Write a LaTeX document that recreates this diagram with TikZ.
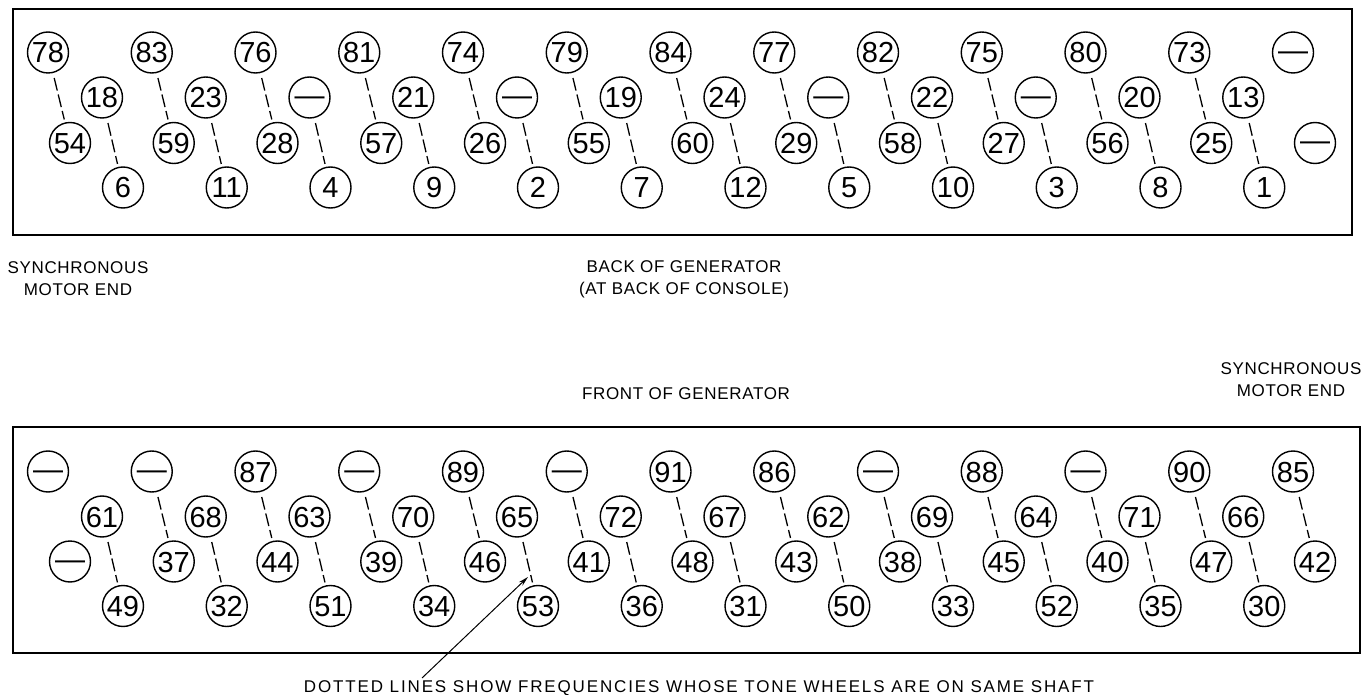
\documentclass[tikz,border=0pt]{standalone}
\usepackage{fontspec}
\setmainfont{Liberation Sans}
\usetikzlibrary{arrows.meta}
\tikzset{
  wheel/.style={circle, draw, line width=1.4pt, minimum size=41pt, inner sep=0pt,
    font=\fontsize{29}{29}\selectfont, text height=21pt, text depth=0pt},
  shaft/.style={line width=1.3pt, dash pattern=on 13pt off 4pt, shorten >=3pt, shorten <=5pt},
  panel/.style={line width=1.6pt},
  lbl/.style={font=\fontsize{17}{22}\selectfont\addfontfeature{LetterSpace=4}, align=center, inner sep=0pt},
}
\newcommand\dsh{\raisebox{2.7pt}{\fontsize{30}{30}\selectfont —}}
\begin{document}
\begin{tikzpicture}[x=1pt,y=-1pt]
\useasboundingbox (0,0) rectangle (1361,695);
% panels
\draw[panel] (13,9) rectangle (1352,235);
\draw[panel] (13,427) rectangle (1360,653);
% top panel (back of generator)
\foreach \v [count=\i from 0] in {78,83,76,81,74,79,84,77,82,75,80,73,\dsh}
  \node[wheel] (ta\i) at ({48+103.75*\i},52.5) {\v};
\foreach \v [count=\i from 0] in {18,23,\dsh,21,\dsh,19,24,\dsh,22,\dsh,20,13}
  \node[wheel] (tb\i) at ({102+103.75*\i},97.5) {\v};
\foreach \v [count=\i from 0] in {54,59,28,57,26,55,60,29,58,27,56,25,\dsh}
  \node[wheel] (tc\i) at ({70+103.75*\i},143) {\v};
\foreach \v [count=\i from 0] in {6,11,4,9,2,7,12,5,10,3,8,1}
  \node[wheel] (td\i) at ({123+103.75*\i},187.5) {\v};
\foreach \i in {0,...,11} {
  \draw[shaft] (ta\i) -- (tc\i);
  \draw[shaft] (tb\i) -- (td\i);
}
% bottom panel (front of generator)
\foreach \v [count=\i from 0] in {\dsh,\dsh,87,\dsh,89,\dsh,91,86,\dsh,88,\dsh,90,85}
  \node[wheel] (ba\i) at ({48+103.75*\i},471.5) {\v};
\foreach \v [count=\i from 0] in {61,68,63,70,65,72,67,62,69,64,71,66}
  \node[wheel] (bb\i) at ({102+103.75*\i},516.5) {\v};
\foreach \v [count=\i from 0] in {\dsh,37,44,39,46,41,48,43,38,45,40,47,42}
  \node[wheel] (bc\i) at ({70+103.75*\i},561.5) {\v};
\foreach \v [count=\i from 0] in {49,32,51,34,53,36,31,50,33,52,35,30}
  \node[wheel] (bd\i) at ({123+103.75*\i},606) {\v};
\foreach \i in {1,...,12}
  \draw[shaft] (ba\i) -- (bc\i);
\foreach \i in {0,...,11}
  \draw[shaft] (bb\i) -- (bd\i);
% labels
\node[lbl] (synL) at (78,279) {SYNCHRONOUS\\MOTOR END};
\node[lbl] (back) at (684,279) {BACK OF GENERATOR\\(AT BACK OF CONSOLE)};
\node[lbl] (front) at (686,394) {FRONT OF GENERATOR};
\node[lbl] (synR) at (1291,380) {SYNCHRONOUS\\MOTOR END};
\node[lbl, font=\fontsize{17}{22}\selectfont\addfontfeature{LetterSpace=11}] (cap) at (699,688)
  {DOTTED LINES SHOW FREQUENCIES WHOSE TONE WHEELS ARE ON SAME SHAFT};
% pointer
\coordinate (ptr) at (422,678);
\coordinate (ptrtip) at (528,577);
\draw[line width=1pt, -{Stealth[length=10pt,width=5pt]}] (ptr) -- (ptrtip);
\end{tikzpicture}
\end{document}
